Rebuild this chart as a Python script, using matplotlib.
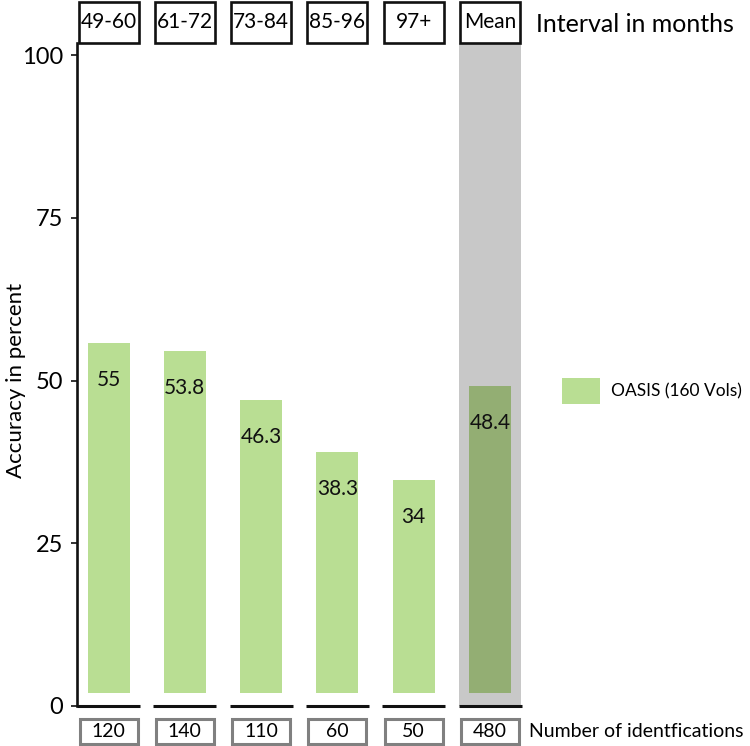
import matplotlib
matplotlib.use('Agg')
import matplotlib.pyplot as plt
from matplotlib.patches import Rectangle, Patch
from matplotlib.lines import Line2D

# ---- data ----
intervals = ['49-60', '61-72', '73-84', '85-96', '97+', 'Mean']
accuracy = [55, 53.8, 46.3, 38.3, 34, 48.4]
n_ident = [120, 140, 110, 60, 50, 480]
yticks = [0, 25, 50, 75, 100]
legend_label = 'OASIS (160 Vols)'
top_title = 'Interval in months'
bottom_title = 'Number of identfications'
ylabel = 'Accuracy in percent'

plt.rcParams['font.family'] = ['Lato', 'DejaVu Sans']

W, H = 750, 746
fig = plt.figure(figsize=(W / 100, H / 100), dpi=100)

ax_left_px, ax_right_px, y0_px, y100_px = 77, 530, 706, 55
ax = fig.add_axes([ax_left_px / W, (H - y0_px) / H,
                   (ax_right_px - ax_left_px) / W, (y0_px - y100_px) / H])
step, c0 = 76.3, 108.5
xl = (ax_left_px - c0) / step
ax.set_xlim(xl, (ax_right_px - c0) / step)
ax.set_ylim(0, 100)
upx = (y0_px - y100_px) / 100.0  # px per unit

green = '#b9de93'
mean_green = '#93ae73'
band_grey = '#c8c8c8'

x = list(range(len(intervals)))
top_lo = (y0_px - 43) / upx
top_hi = (y0_px - 2) / upx
bot_hi = -(719 - y0_px) / upx
bot_lo = -(744 - y0_px) / upx

# grey band behind the mean
mi = len(intervals) - 1
band_w = 62 / step
ax.add_patch(Rectangle((mi - band_w / 2, 0), band_w, top_lo, facecolor=band_grey,
                       edgecolor='none', zorder=0, clip_on=False))

# bars
bar_bottom = 2.0
bar_w = 42 / step
colors = [green] * (len(intervals) - 1) + [mean_green]
heights = [v + 0.7 - bar_bottom for v in accuracy]
ax.bar(x, heights, bottom=bar_bottom, width=bar_w, color=colors, zorder=2)
for xi, v in zip(x, accuracy):
    ax.text(xi, v - 5, f'{v:g}', ha='center', va='center', fontsize=15,
            color='#111111', zorder=3)

# baseline segments
seg_w = 63 / step
for xi in x:
    left = xl if xi == 0 else xi - seg_w / 2
    ax.plot([left, xi + seg_w / 2], [0, 0], color='#111111', lw=2.2,
            solid_capstyle='butt', clip_on=False, zorder=4)

# left axis line
ax.add_line(Line2D([xl, xl], [0, top_lo], color='#111111', lw=1.9,
                   clip_on=False, zorder=4))
for s in ax.spines.values():
    s.set_visible(False)
ax.set_xticks([])
ax.set_yticks(yticks)
ax.tick_params(axis='y', length=4, width=1.2, pad=6, labelsize=17, color='#111111')

# top boxes
box_w = 60 / step
for xi, lab in zip(x, intervals):
    ax.add_patch(Rectangle((xi - box_w / 2, top_lo), box_w, top_hi - top_lo,
                           facecolor='white', edgecolor='#111111', lw=1.9,
                           clip_on=False, zorder=5))
    ax.text(xi, (top_lo + top_hi) / 2, lab, ha='center', va='center',
            fontsize=15, clip_on=False, zorder=6)
ax.text((536 - c0) / step, (y0_px - 24) / upx, top_title, ha='left', va='center',
        fontsize=18, clip_on=False)

# bottom boxes
bbox_w = 58 / step
for xi, n in zip(x, n_ident):
    ax.add_patch(Rectangle((xi - bbox_w / 2, bot_lo), bbox_w, bot_hi - bot_lo,
                           facecolor='white', edgecolor='#808080', lw=2.2,
                           clip_on=False, zorder=5))
    ax.text(xi, (bot_lo + bot_hi) / 2, str(n), ha='center', va='center',
            fontsize=14, clip_on=False, zorder=6)
ax.text((529 - c0) / step, (bot_lo + bot_hi) / 2, bottom_title, ha='left',
        va='center', fontsize=14, clip_on=False)

ax.set_ylabel(ylabel, fontsize=16)
ax.yaxis.set_label_coords((26 - ax_left_px) / (ax_right_px - ax_left_px), 0.5)

# legend
handle = Patch(facecolor=green, edgecolor='none')
fig.legend([handle], [legend_label], loc='center left',
           bbox_to_anchor=(562 / W, (H - 391) / H), frameon=False, fontsize=12.5,
           handlelength=2.2, handleheight=1.9, handletextpad=0.6,
           borderpad=0, borderaxespad=0)

fig.savefig('out.png', dpi=100)
